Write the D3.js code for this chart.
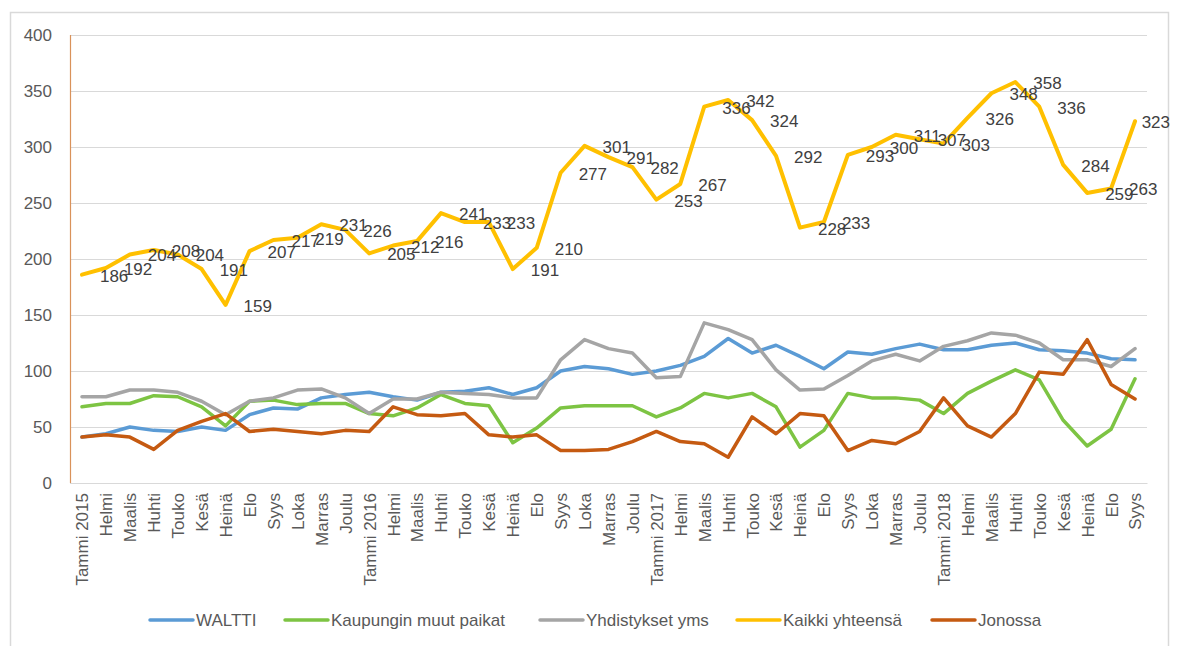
<!DOCTYPE html>
<html>
<head>
<meta charset="utf-8">
<script src="https://cdn.jsdelivr.net/npm/d3@7"></script>
<style>
  html, body { margin: 0; padding: 0; background: #fff; }
  svg { display: block; font-family: "Liberation Sans", Arial, sans-serif; }
</style>
</head>
<body>
<svg id="chart" width="1177" height="646"></svg>
<script>
const categories = [
  "Tammi 2015","Helmi","Maalis","Huhti","Touko","Kesä","Heinä","Elo","Syys","Loka","Marras","Joulu",
  "Tammi 2016","Helmi","Maalis","Huhti","Touko","Kesä","Heinä","Elo","Syys","Loka","Marras","Joulu",
  "Tammi 2017","Helmi","Maalis","Huhti","Touko","Kesä","Heinä","Elo","Syys","Loka","Marras","Joulu",
  "Tammi 2018","Helmi","Maalis","Huhti","Touko","Kesä","Heinä","Elo","Syys"
];
const waltti = [41,44,50,47,46,50,47,61,67,66,76,79,81,77,74,81,82,85,79,85,100,104,102,97,100,105,113,129,116,123,113,102,117,115,120,124,119,119,123,125,119,118,116,111,110];
const kaupungin = [68,71,71,78,77,68,51,73,74,70,71,71,62,60,67,79,71,69,36,49,67,69,69,69,59,67,80,76,80,68,32,47,80,76,76,74,62,80,91,101,92,56,33,48,93];
const yhdistykset = [77,77,83,83,81,73,61,73,76,83,84,76,62,75,75,81,80,79,76,76,110,128,120,116,94,95,143,137,128,101,83,84,96,109,115,109,122,127,134,132,125,110,110,104,120];
const kaikki = [186,192,204,208,204,191,159,207,217,219,231,226,205,212,216,241,233,233,191,210,277,301,291,282,253,267,336,342,324,292,228,233,293,300,311,307,303,326,348,358,336,284,259,263,323];
const jonossa = [41,43,41,30,47,55,62,46,48,46,44,47,46,68,61,60,62,43,41,43,29,29,30,37,46,37,35,23,59,44,62,60,29,38,35,46,76,51,41,62,99,97,128,88,75];
const yTicks = [0,50,100,150,200,250,300,350,400];
const seriesNames = ["WALTTI","Kaupungin muut paikat","Yhdistykset yms","Kaikki yhteensä","Jonossa"];
const seriesColors = ["#5B9BD5","#7DC443","#A5A5A5","#FFC000","#C55A11"];
const seriesValues = [waltti, kaupungin, yhdistykset, kaikki, jonossa];

const svg = d3.select("#chart");
const plot = {left: 70, right: 1147, top: 35, bottom: 483};

// chart frame
svg.append("rect").attr("x", 10.5).attr("y", 12.5).attr("width", 1158).attr("height", 650)
  .attr("fill", "#fff").attr("stroke", "#d9d9d9").attr("stroke-width", 1.5);

const x = d3.scalePoint().domain(d3.range(categories.length)).range([plot.left, plot.right]).padding(0.5);
const y = d3.scaleLinear().domain([0, 400]).range([plot.bottom, plot.top]);

// gridlines
svg.append("g").selectAll("line").data(yTicks).join("line")
  .attr("x1", plot.left).attr("x2", plot.right)
  .attr("y1", d => Math.round(y(d)) + 0.5).attr("y2", d => Math.round(y(d)) + 0.5)
  .attr("stroke", "#d9d9d9").attr("stroke-width", 1);

// y axis
const yAxis = svg.append("g").attr("transform", `translate(${plot.left},0)`)
  .call(d3.axisLeft(y).tickValues(yTicks).tickSize(0).tickPadding(18));
yAxis.select(".domain").remove();
yAxis.selectAll("text").attr("fill", "#595959").attr("font-size", 17)
  .attr("font-family", "'Liberation Sans', Arial, sans-serif");
svg.append("line").attr("x1", plot.left + 0.5).attr("x2", plot.left + 0.5)
  .attr("y1", plot.top).attr("y2", plot.bottom).attr("stroke", "#d9925a").attr("stroke-width", 1.2);

// x axis
const xAxis = svg.append("g").attr("transform", `translate(0,${plot.bottom})`)
  .call(d3.axisBottom(x).tickFormat(i => categories[i]).tickSize(0));
xAxis.select(".domain").attr("stroke", "#d9d9d9");
xAxis.selectAll("text")
  .attr("fill", "#595959").attr("font-size", 17)
  .attr("font-family", "'Liberation Sans', Arial, sans-serif")
  .attr("text-anchor", "end")
  .attr("dy", "0.35em")
  .attr("transform", "translate(0,10) rotate(-90)")
  .attr("y", 0).attr("x", 0);

// lines
const line = d3.line().x((d, i) => x(i)).y(d => y(d));
const linesG = svg.append("g");
seriesValues.forEach((vals, k) => {
  linesG.append("path").datum(vals)
    .attr("d", line)
    .attr("fill", "none")
    .attr("stroke", seriesColors[k])
    .attr("stroke-width", k === 3 ? 4 : 3.5)
    .attr("stroke-linejoin", "round")
    .attr("stroke-linecap", "round");
});

// data labels for total
const labels = svg.append("g").selectAll("text").data(kaikki).join("text")
  .attr("x", (d, i) => x(i) + 18)
  .attr("y", d => y(d) + 1)
  .attr("dy", "0.35em")
  .attr("fill", "#404040")
  .attr("font-size", 17)
  .text(d => d);
labels.each(function(d, i) {
  const w = this.getComputedTextLength();
  const xr = x(i) + 18;
  if (xr + w > 1170) d3.select(this).attr("x", 1170 - w);
});

// legend
const legendItems = [150, 285, 540, 737, 932];
const legY = 620;
const leg = svg.append("g");
seriesNames.forEach((name, k) => {
  const lx = legendItems[k];
  leg.append("line").attr("x1", lx).attr("x2", lx + 43).attr("y1", legY).attr("y2", legY)
    .attr("stroke", seriesColors[k]).attr("stroke-width", 3.5).attr("stroke-linecap", "round");
  leg.append("text").attr("x", lx + 46).attr("y", legY).attr("dy", "0.35em")
    .attr("fill", "#595959").attr("font-size", 17).text(name);
});
</script>
</body>
</html>
